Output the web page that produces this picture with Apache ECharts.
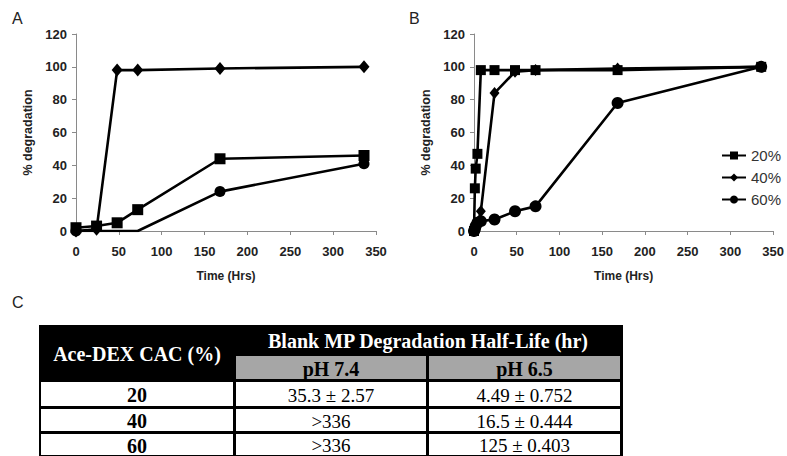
<!DOCTYPE html>
<html><head><meta charset="utf-8">
<script src="https://cdn.jsdelivr.net/npm/echarts@6/dist/echarts.min.js"></script>
<style>html,body{margin:0;padding:0;background:#fff;}#c{width:787px;height:456px;}</style>
</head><body><div id="c"></div>
<script>
// ---------- data ----------
const seriesNames = ['20%', '40%', '60%'];
// Panel A (pH 7.4)
const timeA = [0, 24, 48, 72, 168, 336];
const a20 = [2, 3, 5, 13, 44, 46];
const a40 = [0, 1, 98, 98, 99, 100];
const a60 = [0, 0, 0, 0, 24, 41];
const a60MarkerHidden = [false, true, true, true, false, false];
// Panel B (pH 6.5)
const timeB = [0, 1, 2, 4, 8, 24, 48, 72, 168, 336];
const b20 = [0, 26, 38, 47, 98, 98, 98, 98, 98, 100];
const b40 = [0, 1, 2, 4, 12, 84, 97, 98, 99, 100];
const b60 = [0, 1, 3, 5, 6, 7, 12, 15, 78, 100];
// axes
const xMin = 0, xMax = 350, xStep = 50;
const yMin = 0, yMax = 120, yStep = 20;
const xName = 'Time (Hrs)';
const yName = '% degradation';
const panelLetters = ['A', 'B', 'C'];
// table C
const tableRowHeader = 'Ace-DEX CAC (%)';
const tableGroupHeader = 'Blank MP Degradation Half-Life (hr)';
const phLabels = ['pH 7.4', 'pH 6.5'];
const cacValues = ['20', '40', '60'];
const halfLife74 = ['35.3 ± 2.57', '>336', '>336'];
const halfLife65 = ['4.49 ± 0.752', '16.5 ± 0.444', '125 ± 0.403'];

// ---------- layout ----------
const SANS = '"Liberation Sans", Arial, sans-serif';
const SERIF = '"Liberation Serif", "Times New Roman", serif';
const TXT = '#222';
const AX = '#8a8a8a';
const grids = [
  {left: 76, top: 34, width: 300, height: 197},
  {left: 474, top: 34, width: 301, height: 197}
];
const symbols = ['rect', 'diamond', 'circle'];
const symSizes = [[11, [11, 13], 11], [10, [10, 12], 12]];

const chart = echarts.init(document.getElementById('c'), null, {renderer: 'svg'});

function xAxis(i) {
  return {
    type: 'value', gridIndex: i, min: xMin, max: xMax, interval: xStep,
    name: xName, nameLocation: 'middle', nameGap: 39,
    nameTextStyle: {fontFamily: SANS, fontWeight: 'bold', fontSize: 12, color: TXT},
    axisLine: {lineStyle: {color: AX, width: 1}},
    axisTick: {show: true, length: 4, lineStyle: {color: AX}},
    axisLabel: {margin: 14, fontFamily: SANS, fontWeight: 'bold', fontSize: 13, color: TXT},
    splitLine: {show: false}
  };
}
function yAxis(i) {
  return {
    type: 'value', gridIndex: i, min: yMin, max: yMax, interval: yStep,
    name: yName, nameLocation: 'middle', nameGap: 42,
    nameTextStyle: {fontFamily: SANS, fontWeight: 'bold', fontSize: 12.5, color: TXT},
    axisLine: {show: true, lineStyle: {color: AX, width: 1}},
    axisTick: {show: true, length: 4, lineStyle: {color: AX}},
    axisLabel: {margin: 9, fontFamily: SANS, fontWeight: 'bold', fontSize: 13, color: TXT},
    splitLine: {show: false}
  };
}
function zip(t, v, hidden) {
  return t.map((x, k) => {
    const item = {value: [x, v[k]]};
    if (hidden && hidden[k]) item.symbol = 'none';
    return item;
  });
}
function line(name, gi, data, si) {
  return {
    type: 'line', name: name, xAxisIndex: gi, yAxisIndex: gi, data: data,
    symbol: symbols[si], symbolSize: symSizes[gi][si],
    lineStyle: {color: '#000', width: 2.6},
    itemStyle: {color: '#000'},
    z: 3 + si, animation: false, silent: true
  };
}

// ---------- table graphics ----------
const T = {x0: 39, x1: 623, y0: 325, y1: 458,
  cols: [[41, 233], [236, 426], [429, 620]],
  phRow: [356, 379],
  rows: [[382, 406], [409, 431], [434, 455]],
  groupY: 340.5, headerY: 354};
const g = [];
g.push({type: 'rect', z: 10, shape: {x: T.x0, y: T.y0, width: T.x1 - T.x0, height: T.y1 - T.y0}, style: {fill: '#000'}});
phLabels.forEach((lab, j) => {
  const c = T.cols[j + 1];
  g.push({type: 'rect', z: 11, shape: {x: c[0], y: T.phRow[0], width: c[1] - c[0], height: T.phRow[1] - T.phRow[0]}, style: {fill: '#a6a6a6'}});
  g.push({type: 'text', z: 12, style: {text: lab, x: (c[0] + c[1]) / 2, y: (T.phRow[0] + T.phRow[1]) / 2 + 1, fill: '#000', font: 'bold 20px ' + SERIF, align: 'center', verticalAlign: 'middle'}});
});
const tableCols = [cacValues, halfLife74, halfLife65];
cacValues.forEach((_, r) => {
  const rr = T.rows[r];
  tableCols.forEach((col, j) => {
    const c = T.cols[j];
    g.push({type: 'rect', z: 11, shape: {x: c[0], y: rr[0], width: c[1] - c[0], height: rr[1] - rr[0]}, style: {fill: '#fff'}});
    g.push({type: 'text', z: 12, style: {text: col[r], x: (c[0] + c[1]) / 2, y: (rr[0] + rr[1]) / 2 + 1, fill: '#000',
      font: (j === 0 ? 'bold 20px ' : '19px ') + SERIF, align: 'center', verticalAlign: 'middle'}});
  });
});
g.push({type: 'text', z: 12, style: {text: tableRowHeader, x: (T.cols[0][0] + T.cols[0][1]) / 2, y: T.headerY, fill: '#fff', font: 'bold 20px ' + SERIF, align: 'center', verticalAlign: 'middle'}});
g.push({type: 'text', z: 12, style: {text: tableGroupHeader, x: (T.cols[1][0] + T.cols[2][1]) / 2, y: T.groupY, fill: '#fff', font: 'bold 20px ' + SERIF, align: 'center', verticalAlign: 'middle'}});
// panel letters
const letterPos = [[12, 18], [409, 18], [12, 302]];
panelLetters.forEach((L, k) => {
  g.push({type: 'text', z: 12, style: {text: L, x: letterPos[k][0], y: letterPos[k][1], fill: '#222', font: '16px ' + SANS, align: 'left', verticalAlign: 'middle'}});
});

chart.setOption({
  animation: false,
  backgroundColor: '#fff',
  grid: grids,
  xAxis: [xAxis(0), xAxis(1)],
  yAxis: [yAxis(0), yAxis(1)],
  legend: {
    data: seriesNames, orient: 'vertical', left: 716, top: 143,
    itemWidth: 24, itemHeight: 10, itemGap: 7, selectedMode: false,
    textStyle: {fontFamily: SANS, fontSize: 15, color: '#333'}
  },
  series: [
    line(seriesNames[0], 0, zip(timeA, a20), 0),
    line(seriesNames[1], 0, zip(timeA, a40), 1),
    line(seriesNames[2], 0, zip(timeA, a60, a60MarkerHidden), 2),
    line(seriesNames[0], 1, zip(timeB, b20), 0),
    line(seriesNames[1], 1, zip(timeB, b40), 1),
    line(seriesNames[2], 1, zip(timeB, b60), 2)
  ],
  graphic: g
});
</script></body></html>
